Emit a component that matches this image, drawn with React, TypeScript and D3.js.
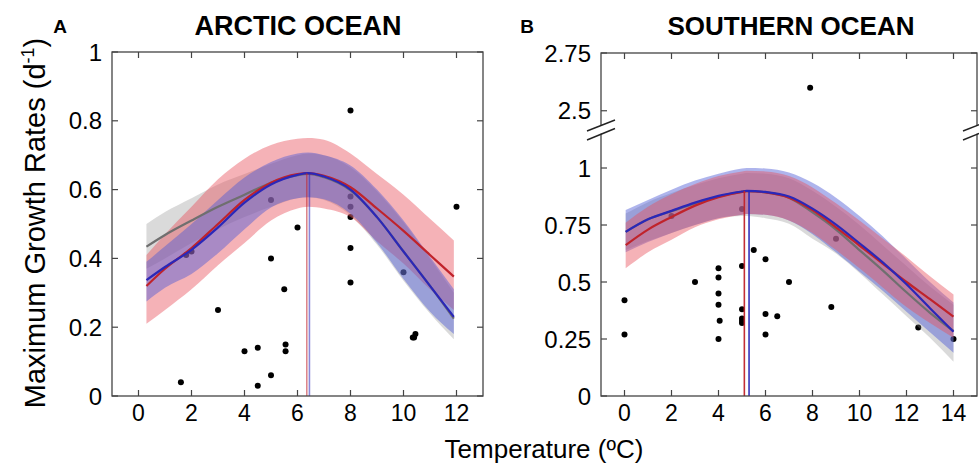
import React from 'react';
import * as d3 from 'd3';

const FONT = '"Liberation Sans", Arial, Helvetica, sans-serif';

// ---------- ARCTIC OCEAN (panel A) ----------
const arcticTemp = [0.3, 1, 2, 3, 4, 5, 6, 6.4, 7, 8, 9, 10, 11, 11.9];
const arcticRed = [0.32, 0.37, 0.43, 0.5, 0.57, 0.62, 0.645, 0.648, 0.64, 0.607, 0.545, 0.48, 0.41, 0.347];
const arcticRedHi = [0.41, 0.47, 0.55, 0.63, 0.69, 0.73, 0.748, 0.75, 0.745, 0.705, 0.645, 0.585, 0.515, 0.452];
const arcticRedLo = [0.21, 0.25, 0.31, 0.38, 0.445, 0.51, 0.545, 0.55, 0.545, 0.52, 0.45, 0.385, 0.31, 0.25];
const arcticBlue = [0.337, 0.375, 0.425, 0.49, 0.562, 0.615, 0.643, 0.648, 0.638, 0.6, 0.52, 0.42, 0.32, 0.23];
const arcticBlueHi = [0.39, 0.435, 0.5, 0.57, 0.635, 0.68, 0.705, 0.708, 0.7, 0.67, 0.6, 0.51, 0.405, 0.31];
const arcticBlueLo = [0.275, 0.315, 0.355, 0.415, 0.485, 0.548, 0.575, 0.578, 0.572, 0.53, 0.445, 0.34, 0.245, 0.18];
const arcticGray = [0.434, 0.468, 0.51, 0.55, 0.585, 0.62, 0.642, 0.646, 0.636, 0.598, 0.52, 0.42, 0.32, 0.225];
const arcticGrayHi = [0.5, 0.535, 0.575, 0.615, 0.645, 0.675, 0.7, 0.705, 0.7, 0.665, 0.595, 0.505, 0.4, 0.3];
const arcticGrayLo = [0.37, 0.4, 0.445, 0.485, 0.52, 0.55, 0.575, 0.578, 0.57, 0.525, 0.44, 0.335, 0.24, 0.165];
const arcticPtT = [1.6, 1.8, 2.0, 3, 4, 4.5, 4.5, 5, 5, 5, 5.5, 5.55, 5.55, 6, 8, 8, 8, 8, 8, 8, 10, 10.35, 10.45, 10.4, 12];
const arcticPtV = [0.04, 0.41, 0.42, 0.25, 0.13, 0.14, 0.03, 0.06, 0.4, 0.57, 0.31, 0.15, 0.13, 0.49, 0.83, 0.58, 0.55, 0.52, 0.43, 0.33, 0.36, 0.17, 0.18, 0.17, 0.55];
const arcticOptT = [6.35, 6.45];
const arcticOptV = [0.648, 0.648];
const arcticXTicks = [0, 2, 4, 6, 8, 10, 12];
const arcticYTicks = [0, 0.2, 0.4, 0.6, 0.8, 1];

// ---------- SOUTHERN OCEAN (panel B) ----------
const southTemp = [0.05, 1, 2, 3, 4, 5, 5.2, 6, 7, 8, 9, 10, 11, 12, 13, 14];
const southRed = [0.662, 0.73, 0.785, 0.835, 0.872, 0.895, 0.898, 0.893, 0.87, 0.815, 0.74, 0.66, 0.58, 0.5, 0.425, 0.348];
const southRedHi = [0.76, 0.83, 0.885, 0.93, 0.965, 0.985, 0.988, 0.985, 0.965, 0.915, 0.845, 0.77, 0.69, 0.61, 0.525, 0.445];
const southRedLo = [0.56, 0.63, 0.685, 0.74, 0.775, 0.795, 0.798, 0.795, 0.77, 0.715, 0.64, 0.56, 0.475, 0.39, 0.32, 0.255];
const southBlue = [0.72, 0.775, 0.812, 0.848, 0.878, 0.897, 0.9, 0.895, 0.875, 0.822, 0.752, 0.67, 0.585, 0.49, 0.385, 0.282];
const southBlueHi = [0.816, 0.86, 0.905, 0.945, 0.975, 0.998, 1.0, 0.998, 0.98, 0.935, 0.87, 0.79, 0.7, 0.6, 0.5, 0.41];
const southBlueLo = [0.63, 0.675, 0.715, 0.75, 0.78, 0.795, 0.798, 0.795, 0.77, 0.71, 0.63, 0.545, 0.46, 0.37, 0.28, 0.19];
const southGray = [0.72, 0.775, 0.81, 0.845, 0.875, 0.895, 0.898, 0.893, 0.87, 0.805, 0.73, 0.64, 0.55, 0.455, 0.365, 0.285];
const southGrayHi = [0.8, 0.85, 0.89, 0.925, 0.955, 0.975, 0.978, 0.975, 0.955, 0.9, 0.83, 0.75, 0.66, 0.57, 0.48, 0.4];
const southGrayLo = [0.64, 0.68, 0.715, 0.75, 0.78, 0.79, 0.79, 0.78, 0.755, 0.69, 0.625, 0.54, 0.445, 0.35, 0.255, 0.15];
const southPtT = [0, 0, 2, 3, 4, 4, 4, 4, 4.05, 4, 5, 5, 5, 5, 5, 5, 5.5, 6, 6, 6, 6.5, 7, 7.9, 9, 8.8, 12.5, 14];
const southPtV = [0.42, 0.27, 0.79, 0.5, 0.56, 0.52, 0.45, 0.4, 0.33, 0.25, 0.82, 0.57, 0.38, 0.34, 0.33, 0.32, 0.64, 0.6, 0.36, 0.27, 0.35, 0.5, 2.6, 0.69, 0.39, 0.3, 0.25];
const southOptT = [5.1, 5.3];
const southOptV = [0.9, 0.9];
const southXTicks = [0, 2, 4, 6, 8, 10, 12, 14];
const southYTicks = [0, 0.25, 0.5, 0.75, 1, 2.5, 2.75];

const RED_LINE = '#c0232b';
const BLUE_LINE = '#2b27b8';
const GRAY_LINE = '#6f6f6f';
const RED_FILL = '#e8505a';
const BLUE_FILL = '#4f5cd6';
const GRAY_FILL = '#8c8c8c';
const AXIS = '#444';

type Series = { t: number[]; v: number[]; hi: number[]; lo: number[] };

function Panel(props: {
  x: d3.ScaleLinear<number, number>;
  y: d3.ScaleLinear<number, number>;
  red: Series; blue: Series; gray: Series;
  ptT: number[]; ptV: number[];
  optT: number[]; optV: number[];
  xTicks: number[]; yTicks: number[];
  redOnTop: boolean;
  optOpacity: number;
  title: string; titleX: number; titleSize: number; letter: string; letterX: number;
  brk?: number;
}) {
  const { x, y, red, blue, gray, ptT, ptV, optT, optV, xTicks, yTicks } = props;
  const [x0, x1] = x.range();
  const yb = y(0);
  const yt = y.range()[y.range().length - 1];
  const area = (s: Series) =>
    d3.area<number>()
      .x((_, i) => x(s.t[i]))
      .y0((_, i) => y(s.lo[i]))
      .y1((_, i) => y(s.hi[i]))
      .curve(d3.curveMonotoneX)(s.t) || '';
  const line = (s: Series) =>
    d3.line<number>()
      .x((_, i) => x(s.t[i]))
      .y((_, i) => y(s.v[i]))
      .curve(d3.curveMonotoneX)(s.t) || '';
  const redBand = <path d={area(red)} fill={RED_FILL} fillOpacity={0.44} />;
  const blueBand = <path d={area(blue)} fill={BLUE_FILL} fillOpacity={0.46} />;
  const tl = 6;
  const brkY = props.brk !== undefined ? y(props.brk) : null;
  return (
    <g fontFamily={FONT}>
      <text x={props.titleX} y={35} textAnchor="middle" fontSize={props.titleSize} fontWeight="bold">{props.title}</text>
      <text x={props.letterX} y={33} textAnchor="middle" fontSize={19} fontWeight="bold">{props.letter}</text>
      {ptT.map((t, i) => (
        <circle key={i} cx={x(t)} cy={y(ptV[i])} r={3} fill="#000" />
      ))}
      <path d={area(gray)} fill={GRAY_FILL} fillOpacity={0.32} />
      {props.redOnTop ? blueBand : redBand}
      {props.redOnTop ? redBand : blueBand}
      <path d={line(gray)} fill="none" stroke={GRAY_LINE} strokeWidth={2.2} />
      <path d={line(red)} fill="none" stroke={RED_LINE} strokeWidth={2.2} />
      <path d={line(blue)} fill="none" stroke={BLUE_LINE} strokeWidth={2.2} />
      <line x1={x(optT[0])} x2={x(optT[0])} y1={y(optV[0])} y2={yb} stroke={RED_LINE} strokeOpacity={props.optOpacity} strokeWidth={1.6} />
      <line x1={x(optT[1])} x2={x(optT[1])} y1={y(optV[1])} y2={yb} stroke={BLUE_LINE} strokeOpacity={props.optOpacity} strokeWidth={1.6} />
      <rect x={x0} y={yt} width={x1 - x0} height={yb - yt} fill="none" stroke={AXIS} strokeWidth={1.3} />
      {xTicks.map((t) => (
        <g key={'x' + t}>
          <line x1={x(t)} x2={x(t)} y1={yb} y2={yb - tl} stroke={AXIS} strokeWidth={1.2} />
          <line x1={x(t)} x2={x(t)} y1={yt} y2={yt + tl} stroke={AXIS} strokeWidth={1.2} />
          <text x={x(t)} y={421} textAnchor="middle" fontSize={23}>{t}</text>
        </g>
      ))}
      {yTicks.map((v) => (
        <g key={'y' + v}>
          <line x1={x0} x2={x0 + tl} y1={y(v)} y2={y(v)} stroke={AXIS} strokeWidth={1.2} />
          <line x1={x1} x2={x1 - tl} y1={y(v)} y2={y(v)} stroke={AXIS} strokeWidth={1.2} />
          <text x={x0 - 10} y={y(v)} dy="0.36em" textAnchor="end" fontSize={24}>{String(v)}</text>
        </g>
      ))}
      {brkY !== null && [x0, x1].map((bx, i) => (
        <g key={'b' + i}>
          <polygon points={`${bx - 14},${brkY + 5} ${bx + 14},${brkY - 6} ${bx + 14},${brkY + 2} ${bx - 14},${brkY + 13}`} fill="#fff" transform={`translate(0,-4)`} />
          <line x1={bx - 14} y1={brkY + 1} x2={bx + 14} y2={brkY - 10} stroke="#222" strokeWidth={1.4} />
          <line x1={bx - 14} y1={brkY + 10} x2={bx + 14} y2={brkY - 1.5} stroke="#222" strokeWidth={1.4} />
        </g>
      ))}
    </g>
  );
}

export default function App() {
  const xA = d3.scaleLinear().domain([-1, 13]).range([112, 483]);
  const yA = d3.scaleLinear().domain([0, 1]).range([396, 52]);
  const xB = d3.scaleLinear().domain([-1, 15]).range([601, 977]);
  const yB = d3.scaleLinear().domain([0, 1.1667, 2.4167, 2.75]).range([396, 130, 130, 53]);
  return (
    <svg width={979} height={464} style={{ position: 'absolute', left: 0, top: 0, background: '#fff' }}>
      <rect x={0} y={0} width={979} height={464} fill="#fff" />
      <Panel
        x={xA} y={yA}
        red={{ t: arcticTemp, v: arcticRed, hi: arcticRedHi, lo: arcticRedLo }}
        blue={{ t: arcticTemp, v: arcticBlue, hi: arcticBlueHi, lo: arcticBlueLo }}
        gray={{ t: arcticTemp, v: arcticGray, hi: arcticGrayHi, lo: arcticGrayLo }}
        ptT={arcticPtT} ptV={arcticPtV}
        optT={arcticOptT} optV={arcticOptV}
        xTicks={arcticXTicks} yTicks={arcticYTicks}
        redOnTop={false} optOpacity={0.55}
        title="ARCTIC OCEAN" titleX={298} titleSize={27} letter="A" letterX={60}
      />
      <Panel
        x={xB} y={yB}
        red={{ t: southTemp, v: southRed, hi: southRedHi, lo: southRedLo }}
        blue={{ t: southTemp, v: southBlue, hi: southBlueHi, lo: southBlueLo }}
        gray={{ t: southTemp, v: southGray, hi: southGrayHi, lo: southGrayLo }}
        ptT={southPtT} ptV={southPtV}
        optT={southOptT} optV={southOptV}
        xTicks={southXTicks} yTicks={southYTicks}
        redOnTop={true} optOpacity={0.95}
        title="SOUTHERN OCEAN" titleX={791} titleSize={26} letter="B" letterX={527}
        brk={1.1667}
      />
      <text transform="translate(45,223) rotate(-90)" textAnchor="middle" fontFamily={FONT} fontSize={29}>
        Maximum Growth Rates (d<tspan fontSize={18} dy={-11}>-1</tspan><tspan dy={11}>)</tspan>
      </text>
      <text x={544} y={458} textAnchor="middle" fontFamily={FONT} fontSize={26}>Temperature (ºC)</text>
    </svg>
  );
}
